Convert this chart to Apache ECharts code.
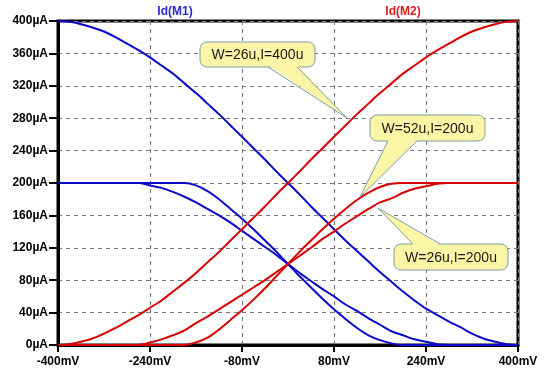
<!DOCTYPE html>
<html>
<head>
<meta charset="utf-8">
<script src="https://cdn.jsdelivr.net/npm/echarts@6/dist/echarts.min.js"></script>
<style>
  html, body { margin: 0; padding: 0; background: #fff; }
  #main { width: 556px; height: 376px; }
</style>
</head>
<body>
<div id="main"></div>
<script>
// differential input voltage (mV)
var vin = [-400, -380, -360, -340, -320, -300, -280, -260, -240, -220, -200,
  -180, -160, -140, -120, -100, -80, -60, -40, -20, 0,
  20, 40, 60, 80, 100, 120, 140, 160, 180, 200,
  220, 240, 260, 280, 300, 320, 340, 360, 380, 400];

// drain currents (uA)
// W=26u, I=400u
var m1W26I400 = [400, 399, 396, 392, 387, 380, 372, 364, 355, 345, 335,
  323, 311, 298, 285, 271, 257, 243, 229, 214, 200,
  186, 171, 157, 143, 129, 116, 103, 90, 78, 66,
  55, 45, 37, 29, 22, 14, 8, 4, 1, 0];
var m2W26I400 = [0, 1, 4, 8, 14, 21, 29, 37, 46, 55, 66,
  77, 89, 102, 115, 129, 143, 157, 171, 186, 200,
  214, 229, 243, 257, 271, 285, 298, 311, 323, 335,
  345, 355, 364, 372, 380, 387, 392, 396, 399, 400];
// W=52u, I=200u
var m1W52I200 = [200, 200, 200, 200, 200, 200, 200, 200, 200, 200, 200,
  200, 197, 190, 180, 168, 156, 143, 129, 115, 100,
  85, 71, 57, 44, 32, 21, 12, 6, 2, 0,
  0, 0, 0, 0, 0, 0, 0, 0, 0, 0];
var m2W52I200 = [0, 0, 0, 0, 0, 0, 0, 0, 0, 0, 0,
  0, 3, 9, 19, 31, 43, 56, 70, 85, 100,
  115, 129, 143, 156, 168, 179, 188, 195, 199, 200,
  200, 200, 200, 200, 200, 200, 200, 200, 200, 200];
// W=26u, I=200u
var m1W26I200 = [200, 200, 200, 200, 200, 200, 200, 200, 197, 194, 189,
  183, 176, 168, 160, 151, 141, 131, 121, 111, 100,
  89, 79, 69, 60, 50, 42, 33, 25, 17, 12,
  7, 4, 1, 0, 0, 0, 0, 0, 0, 0];
var m2W26I200 = [0, 0, 0, 0, 0, 0, 0, 0, 3, 7, 12,
  18, 27, 35, 44, 53, 62, 71, 80, 90, 100,
  110, 120, 131, 140, 150, 159, 168, 176, 181, 188,
  193, 196, 199, 200, 200, 200, 200, 200, 200, 200];

var notes = ['W=26u,I=400u', 'W=52u,I=200u', 'W=26u,I=200u'];

var BLUE = '#0a0acc';
var RED = '#d80000';

function pts(arr) {
  return vin.map(function (v, i) { return [v, arr[i]]; });
}

function line(name, arr, color) {
  return {
    name: name,
    type: 'line',
    data: pts(arr),
    showSymbol: false,
    silent: true,
    smooth: 0.3,
    lineStyle: { color: color, width: 2 },
    z: 3
  };
}

// callout bubble: rect box + pointer
function bubble(box, base, tip, text) {
  var fill = '#fbf6a6', edge = '#7f9ca6';
  return {
    type: 'group',
    z: 100,
    children: [
      { type: 'rect', z: 100, shape: { x: box[0], y: box[1], width: box[2], height: box[3], r: 7 },
        style: { fill: fill, stroke: edge, lineWidth: 1 } },
      { type: 'polygon', z: 101, shape: { points: [[base[0], base[2]], [base[1], base[2]], tip] },
        style: { fill: fill, stroke: null } },
      { type: 'polyline', z: 102, shape: { points: [[base[0], base[3]], tip, [base[1], base[3]]] },
        style: { fill: null, stroke: edge, lineWidth: 1 } },
      { type: 'text', z: 103, x: box[0] + box[2] / 2, y: box[1] + box[3] / 2 + 1,
        style: { text: text, fill: '#1a1a1a', font: '14px "Liberation Sans"', align: 'center', verticalAlign: 'middle' } }
    ]
  };
}

var chart = echarts.init(document.getElementById('main'), null, { renderer: 'canvas' });

var option = {
  animation: false,
  backgroundColor: '#fff',
  grid: { left: 58, right: 38, top: 21, bottom: 31, show: true, borderColor: '#000', borderWidth: 3, backgroundColor: 'transparent' },
  xAxis: {
    type: 'value', min: -400, max: 400, interval: 160,
    axisLine: { show: true, onZero: false, lineStyle: { color: '#000', width: 3 } },
    axisTick: { show: true, length: 7, lineStyle: { color: '#000', width: 2 } },
    axisLabel: { color: '#000', fontFamily: 'Liberation Sans', fontWeight: 'bold', fontSize: 12, margin: 11,
      formatter: function (v) { return Math.round(v) + 'mV'; } },
    splitLine: { show: true, lineStyle: { color: '#777', type: [4, 4], width: 1 } }
  },
  yAxis: {
    type: 'value', min: 0, max: 400, interval: 40,
    axisLine: { show: true, onZero: false, lineStyle: { color: '#000', width: 3 } },
    axisTick: { show: true, length: 9, lineStyle: { color: '#000', width: 2 } },
    axisLabel: { color: '#000', fontFamily: 'Liberation Sans', fontWeight: 'bold', fontSize: 12, margin: 10,
      formatter: function (v) { return Math.round(v) + 'µA'; } },
    splitLine: { show: true, lineStyle: { color: '#777', type: [4, 4], width: 1 } }
  },
  series: [
    line('Id(M1) W=26u,I=400u', m1W26I400, BLUE),
    line('Id(M1) W=52u,I=200u', m1W52I200, BLUE),
    line('Id(M1) W=26u,I=200u', m1W26I200, BLUE),
    line('Id(M2) W=26u,I=400u', m2W26I400, RED),
    line('Id(M2) W=52u,I=200u', m2W52I200, RED),
    line('Id(M2) W=26u,I=200u', m2W26I200, RED)
  ],
  graphic: [
    { type: 'text', x: 175, y: 12, style: { text: 'Id(M1)', fill: '#2a2ad0', font: 'bold 12px "Liberation Sans"', align: 'center', verticalAlign: 'middle' } },
    { type: 'text', x: 403, y: 12, style: { text: 'Id(M2)', fill: '#d82020', font: 'bold 12px "Liberation Sans"', align: 'center', verticalAlign: 'middle' } },
    bubble([200, 42, 115, 25], [268, 297, 65, 67], [347, 118], notes[0]),
    bubble([370, 115, 115, 26], [388, 417, 140, 141], [360, 197], notes[1]),
    bubble([394, 244, 114, 26], [413, 440, 245, 244], [378, 208], notes[2])
  ]
};

chart.setOption(option);
</script>
</body>
</html>
